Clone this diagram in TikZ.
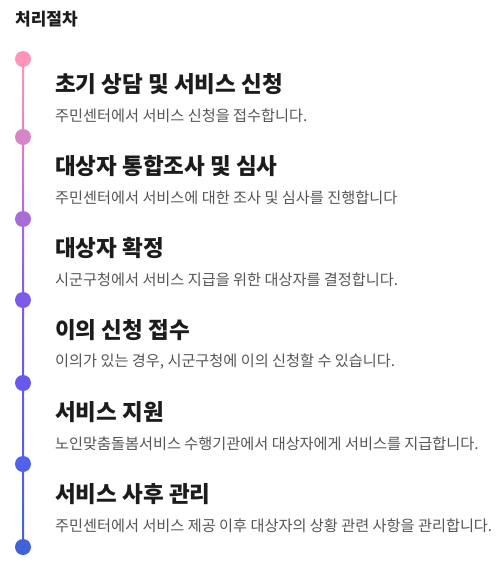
\documentclass[tikz,border=0pt]{standalone}
\usepackage{fontspec}
\setmainfont{Noto Sans CJK KR}
\usepackage{xcolor}
\usetikzlibrary{backgrounds}
\definecolor{c1}{HTML}{FF96B9}
\definecolor{c2}{HTML}{D686C8}
\definecolor{c3}{HTML}{A86CDA}
\definecolor{c4}{HTML}{7C5BEA}
\definecolor{c5}{HTML}{6659EC}
\definecolor{c6}{HTML}{5360E8}
\definecolor{c7}{HTML}{4062D6}
\definecolor{headtext}{HTML}{1C1C1C}
\definecolor{desctext}{HTML}{555555}
\tikzset{x=1pt, y=-1pt,
 dot/.style={circle, minimum size=16pt, inner sep=0pt, draw=none},
 title/.style={anchor=west, inner sep=0pt, text=headtext, font=\fontsize{17}{20}\selectfont\bfseries},
 heading/.style={anchor=west, inner sep=0pt, text=headtext, font=\fontsize{22.5}{25}\selectfont\bfseries},
 desc/.style={anchor=west, inner sep=0pt, text=desctext, font=\fontsize{15.2}{17}\selectfont},
 }

\begin{document}
\begin{tikzpicture}
        \useasboundingbox (0, 0) rectangle (502, 568);
        \node[title] (ttl) at (15, 19.5) {처리절차};
        % timeline dots
        \foreach \y[count=\i] in {59, 137, 219, 300, 383, 464, 547} {
            \node[dot, fill=c\i] (d\i) at (23, \y) {};
        }
        % steps
        \foreach \head/\desc[count=\i] in {
            {초기 상담 및 서비스 신청}/{주민센터에서 서비스 신청을 접수합니다.},
            {대상자 통합조사 및 심사}/{주민센터에서 서비스에 대한 조사 및 심사를 진행합니다},
            {대상자 확정}/{시군구청에서 서비스 지급을 위한 대상자를 결정합니다.},
            {이의 신청 접수}/{이의가 있는 경우, 시군구청에 이의 신청할 수 있습니다.},
            {서비스 지원}/{노인맞춤돌봄서비스 수행기관에서 대상자에게 서비스를 지급합니다.},
            {서비스 사후 관리}/{주민센터에서 서비스 제공 이후 대상자의 상황 관련 사항을 관리합니다.}} {
            \node[heading] (h\i) at (55, {84+82*(\i-1)}) {\head};
            \node[desc] (s\i) at (55, {116+82*(\i-1)}) {\desc};
        }
        \begin{scope}[on background layer]
            \foreach \i[evaluate=\i as \j using int(\i+1)] in {1,...,6} {
                \shade[top color=c\i, bottom color=c\j] ([xshift=-1pt]d\i.center) rectangle ([xshift=1pt]d\j.center);
            }
        \end{scope}
    \end{tikzpicture}
\end{document}
